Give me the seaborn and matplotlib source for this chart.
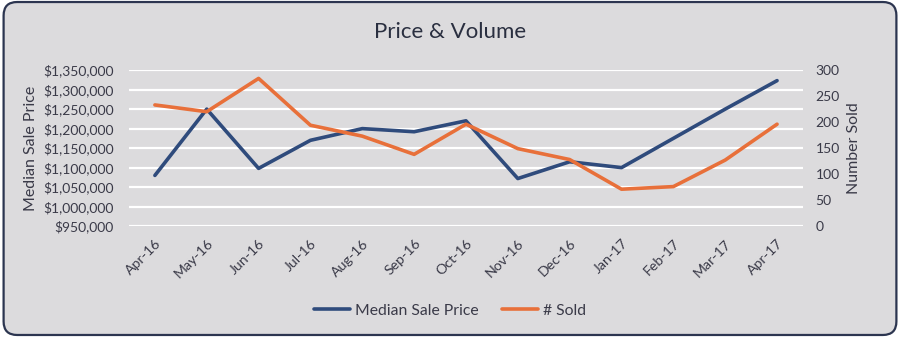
import matplotlib
matplotlib.use("Agg")
import matplotlib.pyplot as plt
from matplotlib.patches import FancyBboxPatch
from matplotlib.ticker import FuncFormatter, MultipleLocator
from matplotlib.lines import Line2D
import seaborn as sns
import pandas as pd

months = ["Apr-16", "May-16", "Jun-16", "Jul-16", "Aug-16", "Sep-16", "Oct-16",
          "Nov-16", "Dec-16", "Jan-17", "Feb-17", "Mar-17", "Apr-17"]
median_price = [1080000, 1250000, 1098000, 1170000, 1200000, 1192000, 1220000,
                1072000, 1115000, 1100000, 1175000, 1250000, 1323000]
num_sold = [233, 220, 284, 194, 173, 138, 196, 149, 128, 71, 76, 127, 196]

df = pd.DataFrame({"Month": months, "idx": range(len(months)),
                   "Median Sale Price": median_price, "# Sold": num_sold})

sns.set_theme(style="white")
plt.rcParams["font.family"] = ["Lato", "DejaVu Sans"]

BG = "#dcdbdd"
BLUE = "#2f4b7c"
ORANGE = "#e8703a"
TXT = "#3a3a48"

fig = plt.figure(figsize=(9, 3.37), dpi=100)
fig.patch.set_facecolor("white")
border = FancyBboxPatch((0.004, 0.006), 0.992, 0.988,
                        boxstyle="round,pad=0,rounding_size=0.015",
                        transform=fig.transFigure, facecolor=BG,
                        edgecolor="#2c3550", linewidth=1.6, zorder=-10,
                        mutation_aspect=900/337)
fig.patches.append(border)

ax = fig.add_axes([0.1433, 0.329, 0.7489, 0.463])
ax.set_facecolor("none")
ax2 = ax.twinx()

sns.lineplot(data=df, x="idx", y="Median Sale Price", ax=ax, color=BLUE,
             linewidth=2.6, legend=False)
sns.lineplot(data=df, x="idx", y="# Sold", ax=ax2, color=ORANGE,
             linewidth=2.6, legend=False)

ax.set_xlim(-0.5, len(months) - 0.5)
ax.set_ylim(950000, 1350000)
ax2.set_ylim(0, 300)
ax.yaxis.set_major_locator(MultipleLocator(50000))
ax2.yaxis.set_major_locator(MultipleLocator(50))
ax.yaxis.set_major_formatter(FuncFormatter(lambda v, p: f"${v:,.0f}"))

ax.grid(axis="y", color="white", linewidth=1.6)
ax.set_axisbelow(True)
for sp in list(ax.spines.values()) + list(ax2.spines.values()):
    sp.set_visible(False)
ax.yaxis.get_gridlines()[0].set_visible(False)

ax.set_xticks(range(len(months)))
ax.set_xticklabels(months, rotation=45, ha="right", rotation_mode="anchor",
                   fontsize=10.2, color=TXT)
ax.tick_params(axis="x", length=0, pad=8)
ax.tick_params(axis="y", length=0, labelsize=10, labelcolor=TXT, pad=11)
ax2.tick_params(axis="y", length=0, labelsize=10, labelcolor=TXT, pad=9)

ax.set_xlabel("")
ax.set_ylabel("Median Sale Price", fontsize=11.5, color=TXT, labelpad=4)
ax2.set_ylabel("Number Sold", fontsize=11.5, color=TXT, labelpad=5)

fig.text(0.5, 0.905, "Price & Volume", ha="center", va="center",
         fontsize=16, color="#2a2f40")

handles = [Line2D([0], [0], color=BLUE, linewidth=2.6),
           Line2D([0], [0], color=ORANGE, linewidth=2.6)]
leg = fig.legend(handles, ["Median Sale Price", "# Sold"], loc="center",
                 bbox_to_anchor=(0.5, 0.078), ncol=2, frameon=False,
                 fontsize=11.3, handlelength=2.3, handletextpad=0.3,
                 columnspacing=1.5)
for t in leg.get_texts():
    t.set_color(TXT)

fig.savefig("out.png", dpi=100, facecolor=fig.get_facecolor())
